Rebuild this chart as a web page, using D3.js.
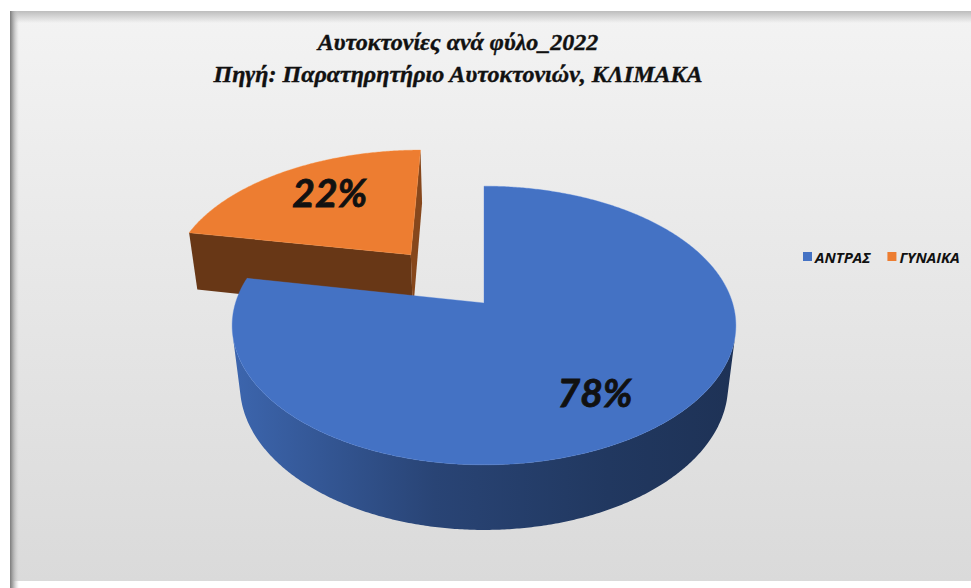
<!DOCTYPE html>
<html>
<head>
<meta charset="utf-8">
<script src="https://cdn.jsdelivr.net/npm/d3@7"></script>
<style>
  html, body { margin: 0; padding: 0; background: #ffffff; }
  svg { display: block; }
</style>
</head>
<body>
<svg id="chart" width="971" height="588"></svg>
<script>
// Chart data
const categories = ["ΑΝΤΡΑΣ", "ΓΥΝΑΙΚΑ"];
const values = [78, 22];
const colors = ["#4472C4", "#ED7D31"];
const exploded = [false, true];
const titleLines = ["Αυτοκτονίες ανά φύλο_2022", "Πηγή: Παρατηρητήριο Αυτοκτονιών, ΚΛΙΜΑΚΑ"];

const W = 971, H = 588;
const svg = d3.select("#chart");
const defs = svg.append("defs");

// ---- chart area background ----
const bg = defs.append("linearGradient").attr("id", "bgGrad")
  .attr("x1", 0).attr("y1", 0).attr("x2", 0).attr("y2", 1);
bg.append("stop").attr("offset", 0).attr("stop-color", "#f3f3f3");
bg.append("stop").attr("offset", 1).attr("stop-color", "#dadada");

const topShade = defs.append("linearGradient").attr("id", "topShade")
  .attr("x1", 0).attr("y1", 0).attr("x2", 0).attr("y2", 1);
topShade.append("stop").attr("offset", 0).attr("stop-color", "#bdbdbd");
topShade.append("stop").attr("offset", 1).attr("stop-color", "#bdbdbd").attr("stop-opacity", 0);

const leftShade = defs.append("linearGradient").attr("id", "leftShade")
  .attr("x1", 0).attr("y1", 0).attr("x2", 1).attr("y2", 0);
leftShade.append("stop").attr("offset", 0).attr("stop-color", "#7c7c7c");
leftShade.append("stop").attr("offset", 0.3).attr("stop-color", "#a8a8a8");
leftShade.append("stop").attr("offset", 1).attr("stop-color", "#d0d0d0").attr("stop-opacity", 0);

const frame = { x: 10, y: 11, w: W - 10 + 20, h: 570 };
svg.append("rect").attr("x", frame.x).attr("y", frame.y)
  .attr("width", frame.w).attr("height", frame.h).attr("fill", "url(#bgGrad)");
svg.append("rect").attr("x", frame.x).attr("y", frame.y)
  .attr("width", frame.w).attr("height", 12).attr("fill", "url(#topShade)");
svg.append("rect").attr("x", frame.x).attr("y", frame.y)
  .attr("width", 9).attr("height", H - frame.y).attr("fill", "url(#leftShade)");

// ---- 3D pie projection ----
const cam = { cx: 484, cy: 303, f: 1290, s: 0.546, c: 0.838, D: 5.19 };
const thickness = 0.296;
const explodeDist = 0.49;
const camPos = [0, -cam.D * cam.c, cam.D * cam.s];

function project(X, Y, Z) {
  const xc = X, yc = Y * cam.s + Z * cam.c, d = cam.D + Y * cam.c - Z * cam.s;
  return [cam.cx + cam.f * xc / d, cam.cy - cam.f * yc / d];
}
const dir = a => [Math.sin(a), Math.cos(a)];

const pie = d3.pie().sort(null).value(d => d)(values);
const total = d3.sum(values);

const slices = pie.map((p, i) => {
  const mid = (p.startAngle + p.endAngle) / 2;
  const e = exploded[i] ? explodeDist : 0;
  const o = [dir(mid)[0] * e, dir(mid)[1] * e];
  return { ...p, i, mid, o };
});

function arcPoints(o, a0, a1, z) {
  const n = Math.max(2, Math.ceil((a1 - a0) / (Math.PI / 360)));
  return d3.range(n + 1).map(k => {
    const a = a0 + (a1 - a0) * k / n;
    const d = dir(a);
    return project(o[0] + d[0], o[1] + d[1], z);
  });
}

const line = d3.line();
const gPie = svg.append("g");

// far slices first
const order = slices.slice().sort((a, b) => {
  const da = a.o[1] + Math.cos(a.mid) * 0.5, db = b.o[1] + Math.cos(b.mid) * 0.5;
  return db - da;
});

order.forEach(sl => {
  const base = d3.color(colors[sl.i]);
  const g = gPie.append("g");
  const o = sl.o;

  // side wall gradient along screen x
  const gid = "wall" + sl.i;
  const left = project(o[0] - 1, o[1], 0)[0], right = project(o[0] + 1, o[1], 0)[0];
  const wg = defs.append("linearGradient").attr("id", gid)
    .attr("gradientUnits", "userSpaceOnUse")
    .attr("x1", left).attr("y1", 0).attr("x2", right).attr("y2", 0);
  wg.append("stop").attr("offset", 0).attr("stop-color", base.darker(0.35));
  wg.append("stop").attr("offset", 0.4).attr("stop-color", base.darker(1.45));
  wg.append("stop").attr("offset", 0.75).attr("stop-color", base.darker(2.0));
  wg.append("stop").attr("offset", 1).attr("stop-color", base.darker(2.3));

  // outer curved wall: only the parts facing the camera
  const n = Math.ceil((sl.endAngle - sl.startAngle) / (Math.PI / 360));
  let run = [];
  const runs = [];
  for (let k = 0; k <= n; k++) {
    const a = sl.startAngle + (sl.endAngle - sl.startAngle) * k / n;
    const vis = (camPos[0] - o[0]) * Math.sin(a) + (camPos[1] - o[1]) * Math.cos(a) - 1 > 0;
    if (vis) run.push(a); else if (run.length) { runs.push(run); run = []; }
  }
  if (run.length) runs.push(run);
  runs.forEach(r => {
    if (r.length < 2) return;
    const a0 = r[0], a1 = r[r.length - 1];
    const pts = arcPoints(o, a0, a1, 0).concat(arcPoints(o, a0, a1, -thickness).reverse());
    g.append("path").attr("d", line(pts) + "Z").attr("fill", `url(#${gid})`);
  });

  // radial faces
  const faces = [
    { a: sl.startAngle, n: [-Math.cos(sl.startAngle), Math.sin(sl.startAngle)], k: 2.3 },
    { a: sl.endAngle, n: [Math.cos(sl.endAngle), -Math.sin(sl.endAngle)], k: 1.6 }
  ];
  faces.forEach(fc => {
    const vis = (camPos[0] - o[0]) * fc.n[0] + (camPos[1] - o[1]) * fc.n[1];
    if (vis <= 1e-6) return;
    const d = dir(fc.a);
    const pts = [
      project(o[0], o[1], 0), project(o[0] + d[0], o[1] + d[1], 0),
      project(o[0] + d[0], o[1] + d[1], -thickness), project(o[0], o[1], -thickness)
    ];
    g.append("path").attr("d", line(pts) + "Z").attr("fill", base.darker(fc.k));
  });

  // top face
  const topPts = [project(o[0], o[1], 0)].concat(arcPoints(o, sl.startAngle, sl.endAngle, 0));
  g.append("path").attr("d", line(topPts) + "Z").attr("fill", base)
    .attr("stroke", base.brighter(0.3)).attr("stroke-width", 0.6).attr("stroke-opacity", 0.6);
});

// ---- data labels ----
const labelR = 0.71, labelTurn = 0.085;
slices.forEach(sl => {
  const d = dir(sl.mid + labelTurn);
  const p = project(sl.o[0] + d[0] * labelR, sl.o[1] + d[1] * labelR, 0);
  svg.append("text")
    .attr("x", p[0]).attr("y", p[1] + 2)
    .attr("text-anchor", "middle").attr("dominant-baseline", "central")
    .attr("font-family", "Lato, 'Open Sans', sans-serif")
    .attr("font-weight", 700).attr("font-style", "italic")
    .attr("font-size", 39).attr("fill", "#111")
    .attr("stroke", "#111").attr("stroke-width", 0.8)
    .text(Math.round(sl.value / total * 100) + "%");
});

// ---- title ----
const title = svg.append("text")
  .attr("text-anchor", "middle")
  .attr("font-family", "'Liberation Serif', 'Times New Roman', serif")
  .attr("font-weight", 700).attr("font-style", "italic")
  .attr("font-size", 24).attr("fill", "#111")
  .attr("stroke", "#111").attr("stroke-width", 0.4);
titleLines.forEach((t, i) => {
  title.append("tspan").attr("x", 458).attr("y", 50 + i * 32).text(t);
});

// ---- legend ----
const legend = svg.append("g").attr("transform", "translate(803,252)");
let lx = 0;
categories.forEach((c, i) => {
  const item = legend.append("g").attr("transform", `translate(${lx},0)`);
  item.append("rect").attr("width", 9).attr("height", 9).attr("fill", colors[i]);
  const t = item.append("text").attr("x", 12).attr("y", 10.5)
    .attr("font-family", "'Open Sans', sans-serif")
    .attr("font-weight", 700).attr("font-style", "italic")
    .attr("font-size", 15).attr("fill", "#111").text(c);
  lx += 12 + t.node().getComputedTextLength() + 17;
});
</script>
</body>
</html>
